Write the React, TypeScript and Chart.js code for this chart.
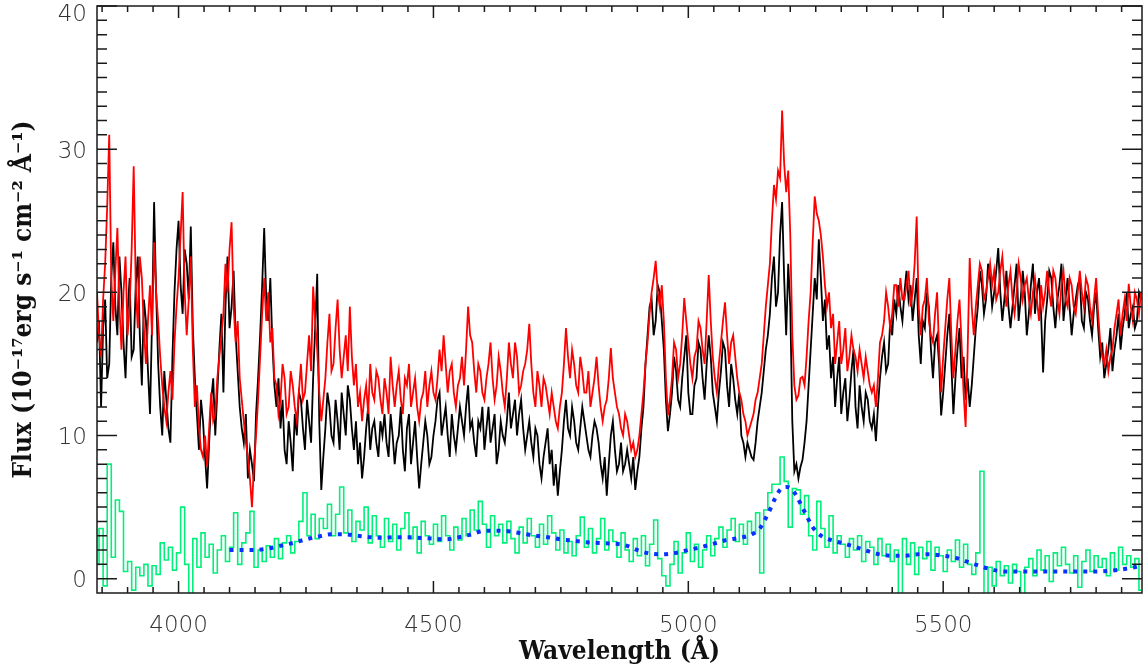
import React, { useEffect, useRef } from 'react';
import { Chart, registerables } from 'chart.js';

Chart.register(...registerables);

// Regular wavelength grids (Å)
const WAVE_START = 3840;
const SPEC_STEP = 4;   // observed spectra
const RESID_STEP = 8;  // residual histogram bins

// Observed spectrum, epoch 1 (black)
const BLACK_FLUX = [
  16.5, 18.0, 12.0, 17.5, 19.5, 14.0, 15.0, 21.0, 23.5, 19.0, 17.0, 22.5, 20.0, 16.5, 14.0, 18.5, 21.0, 15.5, 16.0, 20.5,
  22.5, 17.0, 13.5, 19.5, 18.0, 14.5, 11.5, 18.0, 26.3, 20.0, 15.0, 12.0, 10.0, 14.5, 12.5, 10.5, 9.5, 15.5, 20.0, 23.0,
  25.0, 20.5, 18.5, 23.0, 22.0, 19.5, 24.6, 17.5, 14.0, 11.5, 9.0, 12.5, 11.0, 8.5, 6.3, 9.5, 12.5, 14.0, 10.0, 13.0,
  16.0, 18.5, 13.0, 19.0, 22.5, 17.5, 19.0, 21.5, 17.0, 14.5, 12.0, 10.5, 9.5, 11.5, 7.0, 9.0, 8.0, 6.8, 11.5, 14.0,
  17.0, 20.5, 24.5, 19.5, 18.0, 21.0, 16.5, 13.5, 12.0, 14.0, 10.5, 12.5, 9.0, 8.0, 11.0, 9.5, 7.5, 11.5, 10.0, 13.0,
  12.5, 10.5, 9.0, 12.5, 11.0, 9.5, 14.0, 17.5, 21.3, 11.0, 6.2, 8.5, 10.5, 13.0, 12.0, 10.0, 9.5, 12.5, 11.0, 9.0,
  13.0, 11.5, 10.0, 13.5, 12.5, 10.5, 9.0, 11.0, 8.0, 9.5, 7.0, 8.5, 10.5, 12.0, 9.0, 10.5, 11.0, 9.5, 8.5, 11.0,
  10.0, 11.5, 9.5, 8.5, 11.5, 10.0, 8.0, 9.5, 10.0, 12.0, 9.0, 7.5, 10.5, 11.5, 8.0, 9.5, 11.0, 8.5, 6.3, 8.0,
  9.5, 11.0, 10.0, 8.0, 8.5, 10.0, 11.0, 12.5, 13.0, 10.0, 11.0, 12.0, 10.0, 8.5, 11.5, 10.0, 9.0, 10.5, 12.0, 11.0,
  10.0, 12.0, 13.5, 10.5, 11.0, 9.5, 8.5, 11.0, 10.5, 12.0, 9.0, 10.5, 12.0, 9.5, 10.5, 11.5, 8.0, 9.0, 11.0, 10.0,
  9.5, 11.0, 13.0, 10.5, 11.5, 12.5, 10.0, 11.5, 12.5, 10.5, 9.0, 10.0, 11.0, 9.5, 8.5, 10.5, 10.0, 8.0, 7.0, 8.5,
  9.5, 10.5, 8.0, 9.0, 6.5, 8.0, 5.8, 7.5, 9.0, 11.0, 12.5, 10.5, 10.0, 12.0, 11.0, 9.5, 9.0, 10.5, 12.0, 11.0,
  10.0, 9.0, 8.5, 10.0, 11.0, 10.5, 9.5, 8.0, 7.0, 8.5, 5.8, 8.0, 10.0, 11.0, 9.0, 7.5, 8.0, 9.5, 7.5, 8.0,
  9.0, 8.0, 7.0, 8.5, 6.2, 7.5, 8.5, 10.5, 12.0, 15.0, 17.0, 19.0, 19.5, 17.0, 18.0, 20.5, 20.0, 18.0, 16.0, 12.5,
  10.3, 11.5, 13.0, 15.5, 14.5, 12.5, 12.0, 14.0, 15.5, 17.0, 13.0, 11.5, 11.5, 13.5, 14.0, 16.5, 16.0, 14.0, 12.5, 15.0,
  17.0, 15.5, 13.0, 12.0, 11.0, 13.0, 14.5, 16.5, 16.0, 13.5, 12.0, 15.0, 14.0, 12.5, 11.5, 13.0, 10.0, 9.5, 8.5, 9.5,
  9.0, 8.5, 8.3, 9.5, 11.0, 12.0, 13.0, 14.5, 16.0, 17.0, 18.5, 21.0, 22.5, 19.0, 20.0, 24.0, 26.3, 21.0, 17.0, 22.0,
  19.0, 11.0, 7.5, 8.0, 7.0, 7.8, 8.3, 9.5, 11.0, 13.5, 16.0, 18.5, 21.0, 19.5, 23.7, 21.0, 18.0, 19.5, 16.0, 17.0,
  14.0, 15.5, 12.0, 14.0, 15.5, 11.5, 13.0, 14.0, 11.0, 12.5, 14.5, 16.0, 12.0, 10.5, 13.5, 12.0, 11.0, 13.0, 12.5, 11.0,
  10.5, 11.5, 9.6, 12.0, 14.0, 15.5, 16.5, 14.5, 15.0, 18.0, 17.0, 19.5, 18.5, 20.5, 19.0, 18.0, 20.0, 21.5, 19.5, 20.5,
  18.0, 19.5, 21.0, 17.0, 15.0, 18.0, 17.5, 20.0, 19.0, 16.0, 14.0, 16.5, 17.0, 15.0, 11.4, 13.0, 15.0, 17.0, 18.5, 15.0,
  11.5, 14.0, 16.0, 17.5, 14.0, 15.5, 12.5, 14.0, 12.0, 13.5, 15.5, 17.5, 19.0, 21.5, 20.5, 18.5, 19.5, 22.0, 21.0, 19.0,
  20.0, 21.5, 23.1, 20.0, 18.0, 19.5, 21.5, 19.0, 17.5, 19.0, 20.5, 22.0, 18.0, 19.5, 21.5, 20.0, 17.0, 18.5, 20.5, 22.0,
  18.5, 20.0, 21.0, 18.5, 14.4, 18.0, 19.5, 21.5, 21.0, 19.0, 17.5, 19.5, 20.5, 22.0, 18.0, 19.5, 21.0, 19.0, 17.0, 18.5,
  19.5, 20.5, 21.0, 18.0, 17.5, 20.0, 19.5, 18.0, 17.0, 19.0, 20.0, 17.5, 15.5, 16.5, 14.0, 15.0, 16.0, 17.5, 14.5, 16.0,
  17.0, 18.5, 16.0, 17.5, 18.5, 20.0, 17.5, 18.5, 19.0, 17.5, 18.0, 20.0, 19.5,
];

// Observed spectrum, epoch 2 (red)
const RED_FLUX = [
  20.0, 17.0, 15.5, 19.5, 22.0, 26.0, 31.0, 21.0, 18.0, 21.5, 24.5, 19.0, 16.0, 20.0, 22.5, 17.0, 19.0, 23.0, 28.8, 20.5,
  17.5, 22.5, 21.0, 17.5, 15.0, 18.0, 20.5, 17.0, 23.5, 20.0, 18.0, 15.5, 13.5, 12.0, 11.0, 13.0, 14.5, 12.5, 16.5, 19.0,
  21.0, 24.0, 27.0, 20.0, 17.0, 19.5, 22.5, 16.0, 12.0, 13.5, 10.5, 9.0, 8.5, 10.0, 7.8, 10.5, 13.0, 11.0, 11.5, 14.0,
  15.5, 17.0, 18.5, 22.0, 20.0, 23.0, 24.9, 19.0, 16.5, 18.0, 14.0, 12.5, 11.0, 9.5, 8.5, 7.0, 5.0, 8.0, 10.0, 12.5,
  15.5, 18.5, 21.0, 18.0, 20.0, 16.5, 17.5, 14.0, 13.5, 11.5, 12.5, 15.0, 14.0, 11.5, 12.0, 14.5, 13.5, 12.0, 11.0, 13.0,
  15.0, 12.5, 13.0, 15.0, 17.0, 14.5, 20.4, 18.0, 16.0, 13.0, 11.0, 12.5, 14.0, 16.5, 18.5, 14.5, 15.0, 17.5, 19.5, 16.0,
  14.0, 15.5, 17.0, 14.5, 19.0, 15.5, 13.5, 15.0, 12.0, 13.0, 11.0, 12.5, 13.5, 11.5, 15.0, 13.0, 12.5, 14.5, 14.0, 12.5,
  11.5, 14.0, 13.0, 11.5, 15.5, 13.5, 12.0, 13.5, 14.5, 12.5, 11.5, 14.0, 13.5, 15.0, 12.0, 13.0, 14.0, 12.0, 11.0, 12.5,
  13.0, 14.5, 12.0, 13.5, 14.5, 13.0, 12.5, 14.0, 16.0, 14.5, 17.0, 15.0, 13.0, 14.5, 15.0, 13.0, 12.0, 13.5, 14.0, 15.5,
  13.5, 16.0, 19.0, 17.0, 16.5, 14.5, 13.0, 15.0, 14.5, 13.0, 12.5, 14.0, 15.0, 16.5, 14.0, 12.5, 13.5, 15.5, 14.5, 13.0,
  12.0, 14.0, 16.5, 15.0, 14.0, 16.5, 15.5, 13.0, 13.5, 14.5, 15.0, 16.0, 17.8, 15.0, 13.0, 12.0, 14.5, 13.5, 12.0, 14.0,
  13.5, 12.5, 11.5, 13.0, 12.0, 11.0, 10.5, 12.0, 13.0, 15.0, 17.5, 15.5, 14.0, 16.0, 15.0, 13.5, 13.0, 15.5, 14.5, 13.0,
  13.0, 14.5, 12.0, 13.0, 14.0, 15.5, 13.5, 12.0, 11.0, 12.0, 12.5, 14.0, 16.1, 14.0, 13.0, 12.0, 11.5, 10.5, 10.0, 11.5,
  11.0, 10.0, 9.0, 9.5, 8.5, 9.0, 10.0, 11.5, 13.0, 15.0, 16.5, 18.5, 20.0, 21.0, 22.2, 20.0, 19.0, 20.5, 18.0, 14.0,
  11.4, 12.5, 14.0, 16.5, 16.0, 14.0, 15.0, 17.0, 19.6, 18.0, 16.5, 15.0, 14.0, 15.5, 16.0, 18.0, 17.5, 16.0, 15.0, 18.0,
  21.2, 18.0, 15.5, 14.0, 13.0, 15.0, 16.5, 18.0, 19.3, 17.0, 15.0, 16.5, 17.0, 15.5, 14.0, 13.0, 12.5, 11.5, 11.0, 10.0,
  10.5, 11.0, 11.5, 12.5, 13.0, 14.0, 15.0, 17.0, 19.0, 20.5, 22.0, 25.0, 27.5, 26.5, 28.5, 28.0, 32.7, 29.0, 27.0, 28.5,
  24.0, 17.0, 13.5, 12.5, 12.8, 14.0, 14.1, 13.5, 15.5, 18.0, 20.0, 23.5, 26.7, 25.5, 25.0, 24.0, 22.5, 20.5, 19.0, 20.0,
  17.5, 18.5, 15.0, 16.5, 18.0, 15.0, 16.0, 17.5, 14.5, 15.5, 17.0, 16.0, 15.5, 14.5, 16.0, 15.0, 14.0, 15.5, 14.5, 13.5,
  13.0, 13.5, 12.0, 14.0, 16.5, 17.0, 18.0, 20.0, 19.0, 17.5, 18.5, 20.5, 20.5, 19.0, 21.0, 19.5, 19.5, 20.5, 21.5, 19.0,
  20.0, 22.0, 25.3, 19.0, 17.0, 19.0, 19.5, 21.0, 18.0, 17.0, 16.5, 18.5, 20.0, 16.0, 13.0, 15.5, 17.5, 19.5, 21.0, 17.0,
  14.0, 16.0, 18.0, 19.5, 16.5, 13.0, 10.6, 16.0, 22.4, 19.0, 17.0, 19.0, 20.5, 22.0, 21.5, 19.5, 20.0, 21.0, 22.0, 20.5,
  21.5, 19.5, 20.0, 21.5, 22.5, 20.5, 19.0, 20.5, 21.5, 19.5, 18.5, 20.0, 22.0, 21.0, 19.5, 20.5, 21.0, 19.5, 18.5, 20.0,
  21.0, 19.5, 18.0, 20.5, 19.0, 20.0, 21.5, 20.0, 19.0, 21.5, 21.0, 19.5, 18.5, 20.5, 21.5, 19.5, 19.0, 21.0, 20.5, 19.0,
  18.5, 20.0, 21.5, 20.0, 19.0, 21.0, 20.5, 19.0, 18.0, 19.5, 21.0, 18.5, 16.5, 15.5, 15.0, 16.0, 14.5, 15.5, 16.0, 17.5,
  18.5, 19.5, 17.0, 18.5, 19.5, 18.0, 20.6, 19.0, 18.0, 20.0, 19.5, 18.5, 20.0,
];

// Difference / residual spectrum (green histogram)
const GREEN_FLUX = [
  1.0, 3.5, -0.5, 8.0, 1.5, 5.5, 4.7, 0.5, 1.2, -0.8,
  0.8, 0.2, 1.0, -0.5, 0.9, 0.3, 2.5, 1.3, 2.2, 0.6,
  1.8, 5.0, 1.0, -1.5, 2.8, 0.8, 3.2, 1.5, 2.4, 0.4,
  2.0, 3.0, 1.2, 2.2, 4.6, 1.0, 2.5, 3.2, 4.7, 0.8,
  2.0, 1.2, 2.3, 1.5, 2.8, 1.4, 2.5, 3.0, 1.8, 2.6,
  4.0, 6.0, 3.0, 4.5, 2.8, 4.2, 3.5, 5.2, 3.0, 4.5,
  6.4, 3.2, 4.8, 2.6, 4.0, 3.4, 5.0, 2.5, 4.4, 3.0,
  2.2, 4.2, 2.6, 3.8, 2.0, 3.5, 4.6, 2.8, 3.6, 1.8,
  4.0, 3.0, 2.4, 3.8, 2.6, 4.4, 3.0, 2.0, 3.6, 2.7,
  4.2, 3.0, 4.8, 3.4, 5.4, 3.8, 2.2, 4.4, 3.0, 3.8,
  2.5, 4.0, 2.8, 1.8, 3.6, 2.5, 4.2, 3.0, 2.2, 3.8,
  2.4, 4.4, 3.2, 2.0, 3.4, 1.8, 2.6, 1.6, 3.0, 4.3,
  2.2, 3.5, 1.8, 2.8, 4.2, 2.0, 3.4, 2.6, 1.5, 3.2,
  2.0, 1.2, 2.8, 1.6, 3.0, 0.9, 2.4, 4.1, 1.4, 0.2,
  -0.5, 1.0, 2.6, 0.4, 1.8, 3.2, 1.2, 2.4, 0.8, 2.0,
  3.0, 1.6, 2.8, 3.6, 2.2, 3.4, 4.2, 2.6, 3.8, 2.4,
  4.0, 3.2, 4.6, 0.4, 4.8, 6.0, 6.6, 6.6, 8.5, 6.8,
  3.6, 6.3, 6.2, 4.5, 5.8, 3.0, 2.0, 5.4, 3.5, 2.2,
  4.4, 1.8, 3.0, 2.4, 1.5, 2.8, 2.0, 3.0, 1.2, 2.6,
  2.2, 1.0, 2.8, 1.6, 2.4, 1.2, 2.0, -1.5, 2.8, 1.0,
  2.5, 0.3, 2.2, 1.4, 2.6, 0.6, 2.2, 1.6, 0.5, 2.0,
  1.2, 2.7, 0.8, 2.4, 1.0, 0.3, 1.8, 7.5, -1.5, 0.8,
  -0.5, 1.2, 0.2, 0.9, -0.3, 1.0, 0.5, -1.5, 0.8, 1.4,
  0.2, 2.0, 0.6, 1.6, -0.2, 1.8, 0.9, 2.2, 1.0, 0.4,
  1.6, -0.6, 1.2, 2.0, 0.5, 1.6, 0.8, 1.4, 0.2, 1.8,
  0.6, 2.2, 1.0, 1.6, 0.8, 1.4, -0.8,
];

// Smooth model (blue dotted)
const MODEL_WAVE = [
  4100, 4125, 4150, 4175, 4200, 4225, 4250, 4275, 4300, 4325,
  4350, 4375, 4400, 4425, 4450, 4475, 4500, 4525, 4550, 4575,
  4600, 4625, 4650, 4675, 4700, 4725, 4750, 4775, 4800, 4825,
  4850, 4875, 4900, 4925, 4950, 4975, 5000, 5025, 5050, 5075,
  5100, 5125, 5140, 5150, 5160, 5170, 5180, 5192, 5202, 5212,
  5222, 5232, 5242, 5252, 5265, 5280, 5300, 5325, 5350, 5375,
  5400, 5425, 5450, 5475, 5500, 5525, 5550, 5575, 5600, 5625,
  5650, 5675, 5700, 5725, 5750, 5775, 5800, 5825, 5850, 5875, 5890,
];
const MODEL_FLUX = [
  2.0, 2.0, 2.0, 2.1, 2.3, 2.5, 2.75, 2.95, 3.1, 3.1,
  3.0, 2.9, 2.85, 2.9, 2.9, 2.85, 2.8, 2.75, 2.9, 3.1,
  3.35, 3.35, 3.3, 3.15, 3.0, 2.9, 2.75, 2.65, 2.55, 2.5,
  2.45, 2.35, 2.0, 1.75, 1.7, 1.8, 2.0, 2.2, 2.45, 2.7,
  2.85, 3.1, 3.5, 4.1, 4.8, 5.6, 6.2, 6.4, 6.3, 5.8,
  5.1, 4.4, 3.7, 3.25, 2.9, 2.7, 2.5, 2.25, 1.95, 1.7,
  1.6, 1.6, 1.7, 1.7, 1.6, 1.45, 1.15, 0.85, 0.6, 0.5,
  0.5, 0.5, 0.5, 0.5, 0.5, 0.5, 0.5, 0.55, 0.65, 0.8, 0.95,
];

const X_TICKS = [4000, 4500, 5000, 5500];
const Y_TICKS = [0, 10, 20, 30, 40];
const X_TITLE = 'Wavelength (Å)';
const Y_TITLE = 'Flux (10⁻¹⁷erg s⁻¹ cm⁻² Å⁻¹)';

const TICK_FONT = '"DejaVu Sans ExtraLight", "DejaVu Sans", sans-serif';
const TITLE_FONT = '"DejaVu Serif Condensed", "DejaVu Serif", serif';

const toPoints = (vals: number[], step: number) =>
  vals.map((y, i) => ({ x: WAVE_START + i * step, y }));

const framePlugin = {
  id: 'frameTicks',
  afterDatasetsDraw(chart: any) {
    const { ctx, chartArea: a, scales } = chart;
    const xs = scales.x;
    const ys = scales.y;
    ctx.save();
    ctx.strokeStyle = '#1a1a1a';
    ctx.lineWidth = 1.5;
    ctx.beginPath();
    for (let w = 3850; w <= xs.max; w += 50) {
      const px = xs.getPixelForValue(w);
      const len = w % 500 === 0 ? 12 : 6;
      ctx.moveTo(px, a.bottom);
      ctx.lineTo(px, a.bottom - len);
      ctx.moveTo(px, a.top);
      ctx.lineTo(px, a.top + len);
    }
    for (let v = 0; v <= ys.max; v += 1) {
      const py = ys.getPixelForValue(v);
      const len = v % 10 === 0 ? 20 : 10;
      ctx.moveTo(a.left, py);
      ctx.lineTo(a.left + len, py);
      ctx.moveTo(a.right, py);
      ctx.lineTo(a.right - len, py);
    }
    ctx.stroke();
    ctx.strokeRect(a.left, a.top, a.right - a.left, a.bottom - a.top);
    ctx.restore();
  },
};

export default function App() {
  const ref = useRef<HTMLCanvasElement>(null);

  useEffect(() => {
    if (!ref.current) return;
    const chart = new Chart(ref.current, {
      type: 'line',
      data: {
        datasets: [
          {
            data: toPoints(RED_FLUX, SPEC_STEP),
            borderColor: '#ff0000',
            borderWidth: 1.8,
            pointRadius: 0,
            order: 1,
          },
          {
            data: toPoints(BLACK_FLUX, SPEC_STEP),
            borderColor: '#000000',
            borderWidth: 1.8,
            pointRadius: 0,
            order: 2,
          },
          {
            data: MODEL_WAVE.map((x, i) => ({ x, y: MODEL_FLUX[i] })),
            borderColor: '#0a30ff',
            borderWidth: 4,
            borderDash: [4, 6],
            borderCapStyle: 'butt',
            pointRadius: 0,
            cubicInterpolationMode: 'monotone',
            order: 3,
          },
          {
            data: toPoints(GREEN_FLUX, RESID_STEP),
            borderColor: '#00f07a',
            borderWidth: 1.6,
            stepped: 'middle',
            pointRadius: 0,
            order: 4,
          },
        ] as any,
      },
      options: {
        responsive: false,
        animation: false,
        devicePixelRatio: 1,
        layout: { padding: { top: 6, right: 5, left: 0, bottom: 0 } },
        plugins: { legend: { display: false }, tooltip: { enabled: false } },
        elements: { point: { radius: 0 }, line: { tension: 0 } },
        scales: {
          x: {
            type: 'linear',
            min: 3840,
            max: 5890,
            grid: { display: false, drawTicks: false },
            border: { display: false },
            afterBuildTicks: (s: any) => {
              s.ticks = X_TICKS.map((v) => ({ value: v }));
            },
            afterFit: (s: any) => {
              s.height = 79;
              s.paddingLeft = 0;
              s.paddingRight = 0;
            },
            ticks: {
              padding: 19,
              color: '#333',
              maxRotation: 0,
              font: { family: TICK_FONT, size: 23, weight: 200 as any },
              callback: (v: any) => String(v),
            },
            title: {
              display: true,
              text: X_TITLE,
              color: '#111',
              font: { family: TITLE_FONT, size: 26, weight: 'bold' },
              padding: { top: 0, bottom: 4 },
            },
          },
          y: {
            type: 'linear',
            min: -1,
            max: 40,
            grid: { display: false, drawTicks: false },
            border: { display: false },
            afterBuildTicks: (s: any) => {
              s.ticks = Y_TICKS.map((v) => ({ value: v }));
            },
            afterFit: (s: any) => {
              s.width = 97;
              s.paddingTop = 0;
              s.paddingBottom = 0;
            },
            ticks: {
              padding: 10,
              color: '#333',
              callback: (v: any) => ['', String(v)],
              font: (c: any) => ({
                family: TICK_FONT,
                size: 23,
                weight: 200 as any,
                lineHeight: c.tick && c.tick.value === 40 ? '18px' : '5px',
              }),
            },
            title: {
              display: true,
              text: Y_TITLE,
              color: '#111',
              font: { family: TITLE_FONT, size: 26, weight: 'bold' },
              padding: { top: 9, bottom: 0 },
            },
          },
        },
      } as any,
      plugins: [framePlugin],
    });
    return () => chart.destroy();
  }, []);

  return (
    <div style={{ position: 'absolute', left: 0, top: 0, width: 1147, height: 672, background: '#fff' }}>
      <canvas ref={ref} width={1147} height={672} />
    </div>
  );
}
